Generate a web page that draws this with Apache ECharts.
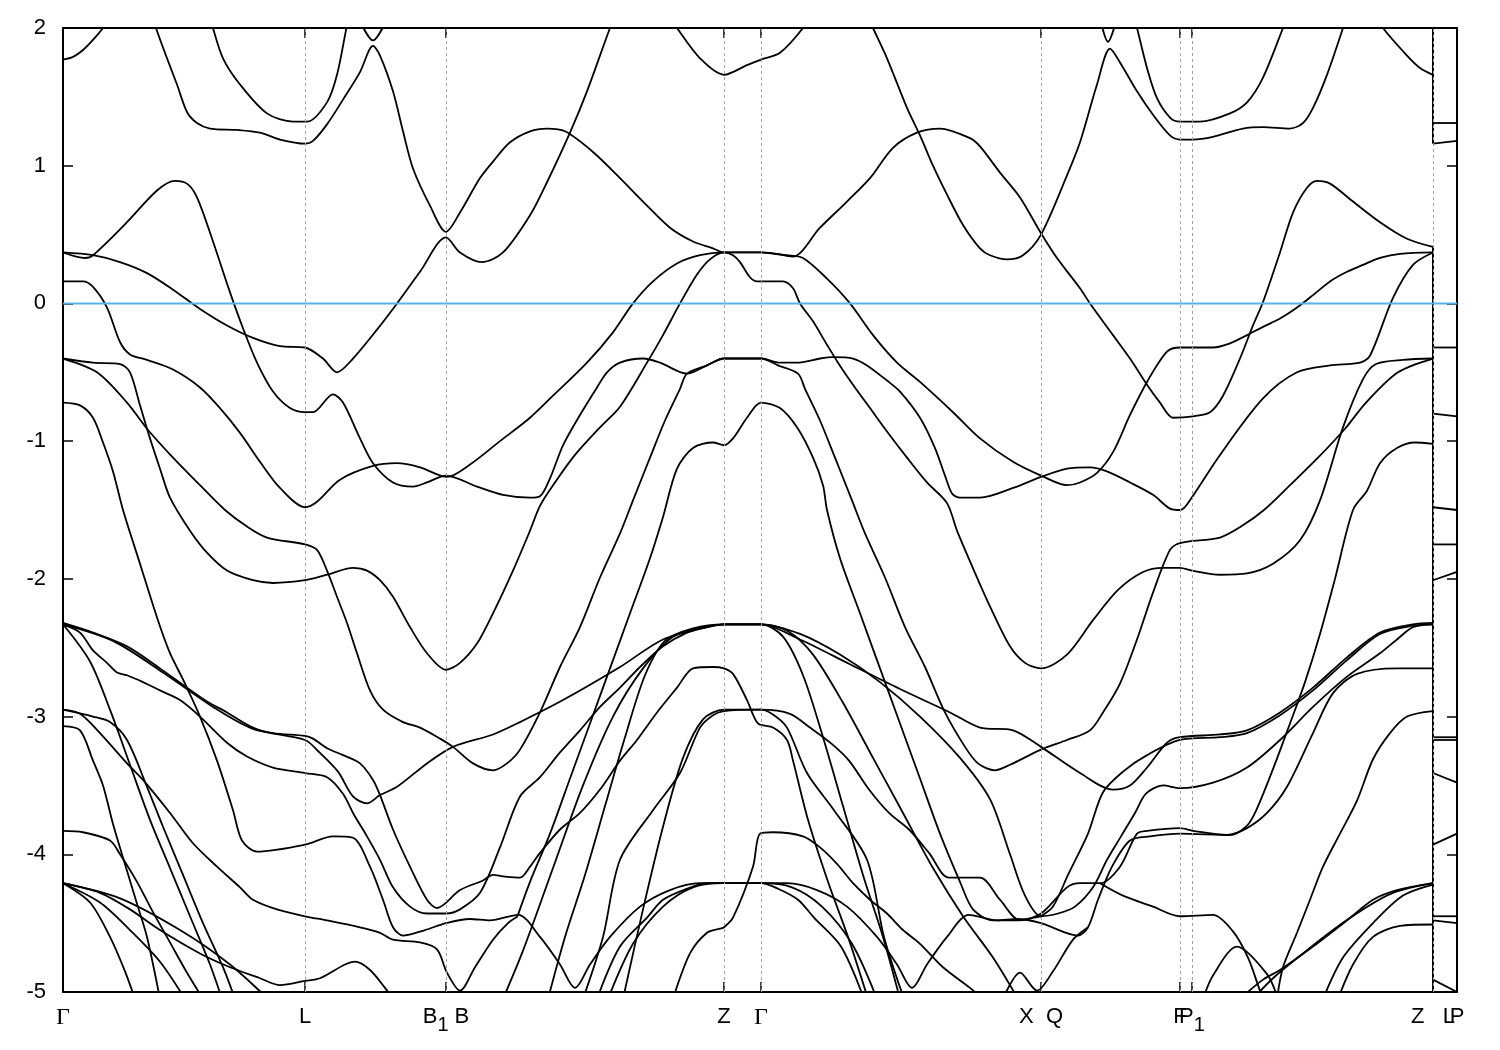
<!DOCTYPE html>
<html><head><meta charset="utf-8">
<script src="https://cdn.jsdelivr.net/npm/echarts@6/dist/echarts.min.js"></script>
<style>html,body{margin:0;padding:0;background:#fff}#c{width:1500px;height:1050px}</style>
</head><body><div id="c"></div>
<script>
// k-path positions of the high-symmetry points and their labels
const kTicks  = [0, 2.42, 3.83, 6.61, 6.98, 9.78, 11.17, 11.29, 13.70, 13.94];
const kLabels = ['Γ', 'L', 'B1|B', 'Z', 'Γ', 'X|Q', 'F', 'P1', 'Z|L', 'P'];
const kGuides = [2.42, 3.83, 6.61, 6.98, 9.78, 11.17, 11.29, 13.70];
const eRange = [-5, 2];
const fermiLevel = 0;

// bands: [k, E(eV)]
const bandA  = [[0,1.77],[0.10,1.79],[0.20,1.84],[0.32,1.93],[0.42,2.02],[0.46,2.08]];
const bandB  = [[0.90,2.08],[0.93,2.00],[1.04,1.78],[1.14,1.59],[1.24,1.39],[1.34,1.31],[1.47,1.27],[1.74,1.26],[1.97,1.24],[2.17,1.19],[2.42,1.16],[2.50,1.18],[2.64,1.30],[2.80,1.48],[2.97,1.68],[3.10,1.87],[3.17,1.80],[3.30,1.54],[3.40,1.25],[3.50,0.98],[3.67,0.71],[3.83,0.52],[3.97,0.66],[4.17,0.91],[4.30,1.03],[4.47,1.17],[4.67,1.25],[4.84,1.27],[5.02,1.25],[5.30,1.10],[5.57,0.91],[5.84,0.71],[6.07,0.55],[6.30,0.45],[6.50,0.40],[6.61,0.37],[6.98,0.37],[7.20,0.35],[7.30,0.34],[7.57,0.55],[7.84,0.74],[8.07,0.91],[8.30,1.13],[8.54,1.24],[8.77,1.27],[9.07,1.20],[9.17,1.14],[9.37,0.95],[9.57,0.77],[9.78,0.51],[9.94,0.33],[10.17,0.11],[10.27,0.00],[10.50,-0.23],[10.67,-0.40],[10.84,-0.59],[10.97,-0.72],[11.10,-0.83],[11.30,-0.82],[11.47,-0.79],[11.60,-0.67],[11.77,-0.40],[11.90,-0.16],[12.00,0.01],[12.17,0.37],[12.30,0.66],[12.44,0.84],[12.54,0.89],[12.67,0.87],[12.90,0.74],[13.17,0.59],[13.44,0.47],[13.70,0.41]];
const bandB2 = [[1.45,2.10],[1.49,2.02],[1.60,1.78],[1.77,1.59],[2.04,1.38],[2.30,1.32],[2.44,1.32],[2.64,1.46],[2.74,1.66],[2.84,2.02],[2.87,2.10]];
const bandVL = [[2.94,2.10],[3.10,1.91],[3.26,2.10]];
const bandVR = [[10.36,2.10],[10.45,1.90],[10.55,2.10]];
const bandK  = [[6.05,2.10],[6.14,2.00],[6.37,1.78],[6.61,1.66],[6.84,1.73],[6.98,1.77],[7.17,1.82],[7.40,2.00],[7.45,2.08]];
const bandAr = [[13.15,2.08],[13.20,2.00],[13.44,1.80],[13.57,1.71],[13.70,1.66]];
const bandB2r= [[10.70,2.10],[10.74,2.00],[10.84,1.71],[10.94,1.49],[11.07,1.35],[11.17,1.32],[11.37,1.32],[11.67,1.38],[11.84,1.46],[12.00,1.64],[12.20,2.00],[12.24,2.08]];
const bandF  = [[0,0.37],[0.30,0.35],[0.57,0.30],[0.84,0.22],[1.10,0.10],[1.37,-0.04],[1.64,-0.16],[1.90,-0.25],[2.17,-0.31],[2.42,-0.32],[2.60,-0.40],[2.74,-0.50],[2.90,-0.40],[3.14,-0.19],[3.34,0.00],[3.57,0.23],[3.83,0.48],[3.97,0.37],[4.19,0.30],[4.40,0.37],[4.67,0.64],[4.84,0.88],[5.07,1.24],[5.24,1.54],[5.47,2.00],[5.52,2.08]];
const bandRq = [[8.05,2.08],[8.10,2.00],[8.24,1.78],[8.44,1.42],[8.57,1.22],[8.70,1.00],[8.84,0.79],[9.00,0.57],[9.17,0.40],[9.27,0.35],[9.44,0.32],[9.60,0.35],[9.78,0.50],[10.04,0.93],[10.17,1.17],[10.34,1.59],[10.47,1.85],[10.57,1.75],[10.74,1.54],[10.90,1.37],[11.07,1.22],[11.17,1.19],[11.30,1.19],[11.50,1.21],[11.80,1.27],[12.00,1.28],[12.27,1.27],[12.40,1.31],[12.50,1.42],[12.64,1.66],[12.80,2.00],[12.83,2.08]];
const bandG  = [[0,0.16],[0.20,0.16],[0.30,0.12],[0.44,-0.03],[0.57,-0.28],[0.67,-0.37],[0.84,-0.41],[1.10,-0.48],[1.37,-0.61],[1.57,-0.76],[1.77,-0.94],[1.97,-1.15],[2.17,-1.34],[2.42,-1.48],[2.54,-1.44],[2.77,-1.28],[3.10,-1.18],[3.34,-1.16],[3.57,-1.19],[3.84,-1.26],[4.07,-1.17],[4.37,-1.00],[4.67,-0.83],[4.90,-0.67],[5.24,-0.43],[5.50,-0.21],[5.70,0.00],[5.90,0.16],[6.14,0.29],[6.37,0.35],[6.61,0.37],[6.98,0.37],[7.24,0.35],[7.40,0.33],[7.64,0.18],[7.87,0.00],[8.10,-0.23],[8.34,-0.43],[8.57,-0.57],[8.90,-0.79],[9.17,-0.98],[9.50,-1.15],[9.78,-1.25],[10.04,-1.32],[10.17,-1.30],[10.34,-1.23],[10.50,-1.08],[10.67,-0.81],[10.84,-0.57],[11.04,-0.35],[11.17,-0.32],[11.50,-0.32],[11.67,-0.29],[11.84,-0.23],[12.00,-0.17],[12.17,-0.11],[12.34,-0.03],[12.50,0.06],[12.67,0.16],[12.84,0.23],[13.00,0.28],[13.17,0.33],[13.37,0.36],[13.70,0.37]];
const bandE  = [[0,0.37],[0.22,0.33],[0.30,0.35],[0.64,0.59],[0.94,0.82],[1.12,0.89],[1.24,0.87],[1.34,0.77],[1.50,0.45],[1.67,0.08],[1.80,-0.18],[1.94,-0.43],[2.10,-0.64],[2.27,-0.76],[2.42,-0.79],[2.50,-0.79],[2.70,-0.66],[2.80,-0.72],[2.97,-0.98],[3.10,-1.16],[3.30,-1.30],[3.50,-1.33],[3.64,-1.30],[3.83,-1.25],[4.14,-1.33],[4.40,-1.39],[4.67,-1.41],[4.77,-1.40],[4.87,-1.27],[5.00,-1.03],[5.17,-0.81],[5.34,-0.61],[5.44,-0.50],[5.57,-0.43],[5.80,-0.40],[5.97,-0.43],[6.24,-0.51],[6.44,-0.45],[6.61,-0.40],[6.98,-0.40],[7.17,-0.43],[7.34,-0.43],[7.57,-0.40],[7.70,-0.39],[7.90,-0.40],[8.04,-0.45],[8.24,-0.56],[8.37,-0.64],[8.57,-0.83],[8.72,-1.05],[8.82,-1.25],[8.89,-1.38],[8.97,-1.41],[9.17,-1.41],[9.50,-1.34],[9.78,-1.26],[10.04,-1.20],[10.27,-1.19],[10.44,-1.22],[10.67,-1.30],[10.90,-1.39],[11.07,-1.49],[11.17,-1.50],[11.24,-1.46],[11.57,-1.10],[12.00,-0.69],[12.34,-0.50],[12.67,-0.45],[12.97,-0.43],[13.07,-0.38],[13.30,0.04],[13.50,0.28],[13.70,0.37]];
const bandH1 = [[0,-0.40],[0.30,-0.43],[0.57,-0.44],[0.67,-0.50],[0.77,-0.74],[0.87,-0.98],[0.97,-1.20],[1.07,-1.41],[1.27,-1.65],[1.44,-1.81],[1.64,-1.94],[1.90,-2.01],[2.10,-2.03],[2.42,-2.01],[2.64,-1.97],[2.90,-1.92],[3.04,-1.94],[3.17,-2.01],[3.30,-2.13],[3.47,-2.35],[3.64,-2.54],[3.83,-2.66],[3.97,-2.61],[4.14,-2.47],[4.30,-2.25],[4.50,-1.94],[4.67,-1.65],[4.77,-1.47],[4.92,-1.30],[5.12,-1.10],[5.37,-0.90],[5.57,-0.75],[5.84,-0.43],[6.00,-0.23],[6.17,0.00],[6.34,0.21],[6.47,0.32],[6.61,0.37],[6.70,0.35],[6.77,0.30],[6.87,0.19],[6.94,0.16],[6.98,0.16],[7.20,0.16],[7.30,0.11],[7.37,0.00],[7.50,-0.13],[7.64,-0.30],[7.75,-0.43],[7.90,-0.59],[8.07,-0.76],[8.24,-0.93],[8.44,-1.12],[8.64,-1.30],[8.84,-1.45],[8.94,-1.65],[9.11,-1.94],[9.27,-2.20],[9.47,-2.49],[9.62,-2.61],[9.78,-2.65],[10.04,-2.55],[10.30,-2.30],[10.55,-2.08],[10.80,-1.95],[11.00,-1.92],[11.17,-1.92],[11.29,-1.94],[11.57,-1.97],[11.84,-1.96],[12.10,-1.89],[12.37,-1.72],[12.57,-1.43],[12.80,-0.90],[13.00,-0.55],[13.13,-0.44],[13.40,-0.41],[13.70,-0.40]];
const bandH2 = [[0,-0.40],[0.34,-0.50],[0.64,-0.72],[0.84,-0.91],[1.10,-1.12],[1.37,-1.32],[1.62,-1.50],[1.84,-1.62],[2.04,-1.70],[2.42,-1.75],[2.54,-1.79],[2.64,-1.94],[2.74,-2.13],[2.84,-2.32],[2.94,-2.54],[3.07,-2.81],[3.20,-2.95],[3.40,-3.04],[3.57,-3.08],[3.77,-3.16],[3.90,-3.22],[4.10,-3.34],[4.30,-3.39],[4.44,-3.34],[4.57,-3.24],[4.77,-2.97],[4.97,-2.64],[5.17,-2.35],[5.37,-1.99],[5.57,-1.67],[5.70,-1.43],[5.87,-1.12],[6.02,-0.85],[6.17,-0.62],[6.24,-0.51],[6.44,-0.45],[6.61,-0.40],[6.98,-0.40],[7.15,-0.45],[7.35,-0.51],[7.42,-0.62],[7.57,-0.85],[7.72,-1.12],[7.89,-1.43],[8.02,-1.67],[8.22,-1.99],[8.42,-2.35],[8.62,-2.64],[8.82,-2.97],[9.02,-3.22],[9.15,-3.34],[9.32,-3.39],[9.47,-3.35],[9.78,-3.24],[10.04,-3.17],[10.27,-3.10],[10.40,-2.97],[10.57,-2.76],[10.74,-2.44],[10.90,-2.10],[11.07,-1.79],[11.17,-1.74],[11.57,-1.70],[11.78,-1.62],[12.01,-1.50],[12.27,-1.32],[12.55,-1.12],[12.82,-0.91],[13.03,-0.72],[13.35,-0.50],[13.70,-0.40]];
const bandZ1 = [[4.55,-4.44],[4.67,-4.20],[4.87,-3.85],[5.07,-3.45],[5.27,-3.05],[5.47,-2.65],[5.67,-2.25],[5.87,-1.85],[6.00,-1.55],[6.14,-1.20],[6.30,-1.05],[6.50,-1.01],[6.61,-1.03],[6.70,-0.98],[6.84,-0.83],[6.98,-0.72],[7.17,-0.76],[7.34,-0.90],[7.50,-1.12],[7.60,-1.32],[7.64,-1.50],[7.77,-1.85],[7.97,-2.25],[8.17,-2.65],[8.37,-3.05],[8.57,-3.45],[8.77,-3.85],[8.97,-4.20],[9.10,-4.40],[9.30,-4.48],[9.50,-4.48],[9.78,-4.45]];
const bandI  = [[0,-0.72],[0.17,-0.74],[0.30,-0.83],[0.40,-1.01],[0.50,-1.22],[0.60,-1.50],[0.77,-1.89],[0.94,-2.28],[1.07,-2.54],[1.20,-2.73],[1.37,-3.00],[1.54,-3.32],[1.70,-3.68],[1.79,-3.90],[1.94,-3.98],[2.42,-3.93],[2.70,-3.87],[2.90,-3.88],[3.07,-4.09],[3.20,-4.33],[3.30,-4.53],[3.40,-4.59],[3.62,-4.55],[3.83,-4.50],[4.07,-4.47],[4.27,-4.48],[4.55,-4.44],[4.77,-4.60],[4.97,-4.80],[5.12,-4.97],[5.27,-4.80],[5.47,-4.60],[5.77,-4.38],[6.07,-4.26],[6.37,-4.21],[6.61,-4.21],[6.98,-4.21],[7.24,-4.21],[7.54,-4.26],[7.84,-4.38],[8.14,-4.60],[8.34,-4.80],[8.49,-4.97],[8.64,-4.80],[8.84,-4.60],[9.06,-4.44],[9.34,-4.48],[9.54,-4.47],[9.78,-4.50],[10.15,-4.59],[10.25,-4.53],[10.35,-4.33],[10.49,-4.09],[10.67,-3.90],[10.87,-3.87],[11.17,-3.85],[11.67,-3.86],[11.83,-3.80],[11.92,-3.70],[12.09,-3.40],[12.27,-3.05],[12.42,-2.75],[12.57,-2.40],[12.72,-2.00],[12.90,-1.50],[13.04,-1.36],[13.17,-1.16],[13.34,-1.05],[13.52,-1.01],[13.70,-1.02]];
const bandJ1 = [[0,-2.32],[0.30,-2.39],[0.64,-2.49],[0.97,-2.65],[1.24,-2.79],[1.44,-2.89],[1.64,-2.97],[1.90,-3.08],[2.10,-3.12],[2.42,-3.14],[2.50,-3.16],[2.64,-3.23],[2.80,-3.28],[2.97,-3.34],[3.10,-3.46],[3.17,-3.57],[3.30,-3.82],[3.47,-4.09],[3.64,-4.33],[3.74,-4.39],[3.97,-4.26],[4.20,-4.19],[4.30,-4.15],[4.40,-4.16],[4.57,-4.17],[4.67,-4.09],[4.77,-3.99],[4.97,-3.82],[5.17,-3.70],[5.37,-3.53],[5.57,-3.32],[5.74,-3.17],[5.94,-2.97],[6.14,-2.79],[6.30,-2.65],[6.50,-2.64],[6.61,-2.65],[6.70,-2.69],[6.84,-2.88],[6.95,-3.05],[7.10,-3.08],[7.24,-3.17],[7.30,-3.32],[7.45,-3.75],[7.65,-4.20],[7.85,-4.60],[8.05,-5.05]];
const bandJ2 = [[0,-2.33],[0.50,-2.45],[1.00,-2.68],[1.50,-2.93],[1.90,-3.09],[2.42,-3.17],[2.55,-3.25],[2.75,-3.40],[2.90,-3.58],[3.04,-3.63],[3.17,-3.57],[3.34,-3.51],[3.64,-3.34],[3.90,-3.22],[4.30,-3.13],[4.57,-3.04],[5.00,-2.88],[5.57,-2.64],[6.00,-2.44],[6.44,-2.35],[6.61,-2.33],[6.98,-2.33],[7.37,-2.44],[7.87,-2.62],[8.37,-2.80],[8.87,-2.97],[9.17,-3.08],[9.50,-3.10],[9.78,-3.22],[10.17,-3.41],[10.50,-3.53],[10.67,-3.50],[10.84,-3.37],[11.04,-3.19],[11.17,-3.15],[11.57,-3.13],[11.84,-3.10],[12.17,-2.97],[12.50,-2.79],[12.84,-2.57],[13.17,-2.39],[13.50,-2.33],[13.70,-2.32]];
const bandL3 = [[0,-2.33],[0.17,-2.39],[0.30,-2.52],[0.44,-2.61],[0.54,-2.68],[0.64,-2.70],[0.80,-2.75],[0.97,-2.81],[1.17,-2.88],[1.37,-3.00],[1.64,-3.19],[1.84,-3.29],[2.10,-3.37],[2.42,-3.41],[2.64,-3.44],[2.80,-3.56],[2.90,-3.70],[3.04,-3.87],[3.17,-4.04],[3.30,-4.24],[3.47,-4.38],[3.64,-4.43],[3.83,-4.43],[3.97,-4.40],[4.17,-4.28],[4.37,-3.95],[4.57,-3.58],[4.77,-3.44],[4.97,-3.26],[5.17,-3.10],[5.37,-2.93],[5.57,-2.79],[5.77,-2.64],[6.00,-2.49],[6.24,-2.39],[6.44,-2.35],[6.61,-2.33],[6.98,-2.33],[7.37,-2.40],[7.77,-2.55],[8.17,-2.75],[8.57,-3.00],[8.97,-3.30],[9.27,-3.60],[9.47,-4.00],[9.62,-4.30],[9.78,-4.45],[9.95,-4.43],[10.12,-4.38],[10.30,-4.24],[10.44,-4.04],[10.58,-3.87],[10.72,-3.70],[10.83,-3.56],[11.00,-3.50],[11.17,-3.52],[11.50,-3.48],[11.84,-3.37],[12.17,-3.17],[12.50,-2.93],[12.84,-2.71],[13.17,-2.54],[13.34,-2.44],[13.50,-2.35],[13.70,-2.33]];
const bandW  = [[5.20,-5.05],[5.40,-4.60],[5.57,-4.04],[5.90,-3.68],[6.17,-3.41],[6.37,-3.08],[6.50,-2.99],[6.61,-2.96],[6.98,-2.95],[7.27,-2.98],[7.47,-3.08],[7.69,-3.20],[7.86,-3.32],[8.06,-3.53],[8.26,-3.70],[8.46,-3.82],[8.66,-3.99],[8.86,-4.17],[9.17,-4.17],[9.37,-4.33],[9.57,-4.48],[9.78,-4.43],[10.04,-4.24],[10.17,-4.21],[10.37,-4.21],[10.57,-4.09],[10.74,-3.85],[10.84,-3.83],[11.17,-3.81],[11.30,-3.83],[11.64,-3.86],[11.84,-3.81],[12.04,-3.70],[12.24,-3.51],[12.50,-3.12],[12.70,-2.83],[12.94,-2.69],[13.34,-2.65],[13.70,-2.65]];
const bandW2 = [[5.60,-5.05],[5.80,-4.40],[6.00,-3.80],[6.20,-3.30],[6.40,-3.02],[6.61,-2.95],[6.98,-2.95],[7.11,-2.99],[7.24,-3.08],[7.44,-3.41],[7.71,-3.68],[8.04,-4.04],[8.21,-4.60],[8.41,-5.05]];
const bandZ3 = [[6.10,-5.05],[6.27,-4.72],[6.44,-4.57],[6.57,-4.54],[6.61,-4.53],[6.70,-4.46],[6.90,-4.09],[6.97,-3.85],[7.10,-3.84],[7.40,-3.87],[7.57,-3.95],[7.74,-4.07],[7.90,-4.21],[8.07,-4.33],[8.24,-4.43],[8.40,-4.55],[8.57,-4.65],[8.80,-4.82],[9.07,-4.97],[9.20,-5.05]];
const bandZ4a= [[5.34,-5.05],[5.57,-4.67],[5.84,-4.46],[6.00,-4.33],[6.24,-4.25],[6.44,-4.21],[6.61,-4.21],[6.98,-4.21],[7.15,-4.25],[7.35,-4.33],[7.51,-4.46],[7.78,-4.67],[8.01,-5.05]];
const bandZ4b= [[5.45,-5.05],[5.70,-4.65],[6.00,-4.38],[6.30,-4.24],[6.61,-4.21],[6.98,-4.21],[7.29,-4.24],[7.59,-4.38],[7.89,-4.65],[8.14,-5.05]];
const bandQ1 = [[4.85,-5.05],[5.02,-4.60],[5.22,-4.15],[5.42,-3.65],[5.62,-3.15],[5.82,-2.70],[6.02,-2.45],[6.30,-2.36],[6.61,-2.33],[6.98,-2.33],[7.20,-2.42],[7.40,-2.70],[7.60,-3.15],[7.80,-3.65],[8.00,-4.15],[8.20,-4.60],[8.37,-5.05]];
const bandQ2 = [[4.40,-5.05],[4.60,-4.70],[4.90,-4.10],[5.20,-3.50],[5.50,-3.00],[5.80,-2.65],[6.10,-2.42],[6.40,-2.35],[6.61,-2.33],[6.98,-2.33],[7.25,-2.38],[7.50,-2.55],[7.80,-2.90],[8.10,-3.30],[8.40,-3.70],[8.70,-4.10],[9.00,-4.45],[9.30,-4.75],[9.55,-5.05]];
const bandM  = [[0,-2.33],[0.27,-2.60],[0.47,-2.95],[0.67,-3.35],[0.87,-3.75],[1.07,-4.10],[1.27,-4.45],[1.47,-4.80],[1.59,-5.05]];
const bandN1 = [[0,-2.95],[0.17,-2.98],[0.37,-3.12],[0.64,-3.34],[0.80,-3.46],[1.07,-3.70],[1.30,-3.92],[1.54,-4.09],[1.77,-4.24],[1.90,-4.33],[2.14,-4.40],[2.42,-4.45],[2.64,-4.48],[2.97,-4.53],[3.17,-4.57],[3.30,-4.62],[3.57,-4.64],[3.74,-4.69],[3.84,-4.86],[3.97,-4.99],[4.12,-4.82],[4.30,-4.62],[4.45,-4.50],[4.55,-4.45]];
const bandN2 = [[0,-2.95],[0.30,-3.00],[0.47,-3.04],[0.64,-3.17],[0.84,-3.51],[1.00,-3.80],[1.20,-4.15],[1.40,-4.50],[1.60,-4.82],[1.72,-5.05]];
const bandN3 = [[0,-3.07],[0.17,-3.10],[0.30,-3.32],[0.40,-3.50],[0.50,-3.78],[0.64,-4.12],[0.74,-4.36],[0.84,-4.60],[0.97,-5.05]];
const bandO  = [[0,-3.83],[0.20,-3.84],[0.47,-3.90],[0.57,-4.00],[0.74,-4.20],[0.90,-4.42],[1.07,-4.64],[1.24,-4.86],[1.40,-5.05]];
const bandP1 = [[0,-4.21],[0.37,-4.28],[0.67,-4.40],[0.97,-4.55],[1.37,-4.72],[1.67,-4.82],[1.97,-4.90],[2.17,-4.95],[2.42,-4.92],[2.57,-4.90],[2.82,-4.80],[2.92,-4.78],[3.07,-4.84],[3.22,-4.97],[3.30,-5.05]];
const bandP2 = [[0,-4.21],[0.37,-4.35],[0.67,-4.55],[0.97,-4.78],[1.22,-5.05]];
const bandP3 = [[0,-4.21],[0.27,-4.35],[0.47,-4.60],[0.62,-4.85],[0.72,-5.05]];
const bandP4 = [[0,-4.21],[0.57,-4.32],[1.17,-4.55],[1.67,-4.80],[2.05,-5.05]];
const bandR1 = [[9.78,-4.45],[9.90,-4.38],[10.05,-4.15],[10.25,-3.85],[10.40,-3.55],[10.60,-3.40],[10.84,-3.28],[11.17,-3.17],[11.57,-3.15],[11.84,-3.12],[12.17,-2.99],[12.50,-2.81],[12.84,-2.59],[13.17,-2.40],[13.50,-2.34],[13.70,-2.33]];
const bandR4 = [[12.14,-5.05],[12.20,-4.82],[12.34,-4.57],[12.47,-4.33],[12.60,-4.09],[12.77,-3.85],[12.94,-3.61],[13.10,-3.31],[13.27,-3.12],[13.44,-3.00],[13.70,-2.96]];
const bandR5a= [[11.77,-5.05],[12.00,-4.91],[12.17,-4.84],[12.50,-4.67],[12.84,-4.48],[13.10,-4.33],[13.34,-4.26],[13.70,-4.21]];
const bandR5b= [[11.90,-5.05],[12.10,-4.90],[12.40,-4.72],[12.70,-4.55],[13.00,-4.40],[13.30,-4.28],[13.70,-4.21]];
const bandR5c= [[12.60,-5.05],[12.80,-4.75],[13.10,-4.50],[13.40,-4.30],[13.70,-4.22]];
const bandR7 = [[12.75,-5.05],[12.90,-4.80],[13.10,-4.60],[13.37,-4.52],[13.70,-4.51]];
const bandF1 = [[10.37,-4.21],[10.60,-4.30],[10.90,-4.38],[11.17,-4.45],[11.50,-4.44],[11.70,-4.56],[11.85,-4.75],[11.95,-4.95],[12.00,-5.05]];
const bandF2 = [[11.40,-5.05],[11.50,-4.88],[11.74,-4.67],[12.04,-4.87],[12.15,-5.05]];
const bandF3 = [[9.40,-5.05],[9.57,-4.86],[9.74,-4.99],[9.90,-4.85],[10.10,-4.62],[10.25,-4.53]];

// L-P segment (flat bands) : [E at L, E at P]
const lpBands = [[1.31,1.31],[1.16,1.18],[-0.32,-0.32],[-0.80,-0.82],[-1.48,-1.50],[-1.75,-1.75],[-2.01,-1.95],[-3.15,-3.15],[-3.17,-3.17],[-3.41,-3.48],[-3.93,-3.85],[-4.45,-4.45],[-4.48,-4.50],[-4.91,-5.00]];
// energy spans of the Z|L discontinuity
const zlJumps = [[2.05,1.16],[0.41,-5.05]];

const bands = [bandA,bandB,bandB2,bandVL,bandVR,bandK,bandAr,bandB2r,bandF,bandRq,bandG,bandE,bandH1,bandH2,bandZ1,bandI,bandJ1,bandJ2,bandL3,bandW,bandW2,bandZ3,bandZ4a,bandZ4b,bandQ1,bandQ2,bandM,bandN1,bandN2,bandN3,bandO,bandP1,bandP2,bandP3,bandP4,bandR1,bandR4,bandR5a,bandR5b,bandR5c,bandR7,bandF1,bandF2,bandF3];

const kZL = kTicks[8], kP = kTicks[9];
const bandStyle = {color:'#000', width:1.8};
const series = [];
series.push({type:'line', data:[], markLine:{silent:true, symbol:['none','none'], label:{show:false},
  lineStyle:{color:'#a0a0a0', type:[3,3], width:1}, data:kGuides.map(k=>({xAxis:k}))}, z:1});
bands.forEach(b => series.push({type:'line', data:b, showSymbol:false, smooth:0.3,
  lineStyle:bandStyle, silent:true, z:3}));
lpBands.forEach(p => series.push({type:'line', data:[[kZL,p[0]],[kP,p[1]]], showSymbol:false,
  lineStyle:bandStyle, silent:true, z:3}));
zlJumps.forEach(j => series.push({type:'line', data:[[kZL,j[0]],[kZL,j[1]]], showSymbol:false,
  lineStyle:{color:'#000', width:2}, silent:true, z:3}));
series.push({type:'line', data:[[kTicks[0],fermiLevel],[kP,fermiLevel]], showSymbol:false,
  lineStyle:{color:'#56b4e9', width:2}, silent:true, z:4});

function fmtK(v){
  let i=0, d=1e9;
  kTicks.forEach((t,j)=>{ if(Math.abs(t-v)<d){d=Math.abs(t-v); i=j;} });
  const n = kLabels[i];
  if (n==='Γ') return '{g|Γ}';
  if (n==='B1|B') return '{t|B}{s|1}{t| B}';
  if (n==='X|Q') return '{t|X  Q}';
  if (n==='Z|L') return '{t|Z   L}';
  if (n==='P1') return '{t|P}{s|1}';
  return '{t|'+n+'}';
}
const font = 'Liberation Sans, Arial, sans-serif';
const rich = {t:{fontFamily:font, fontSize:22, color:'#000', verticalAlign:'top'},
             s:{fontFamily:font, fontSize:20, color:'#000', verticalAlign:'top', padding:[9,0,0,0]},
             g:{fontFamily:'Liberation Serif, DejaVu Serif, serif', fontSize:24, color:'#000', verticalAlign:'top'}};
const mainTicks = kTicks.slice(0, 9);
const lastTick = kTicks.slice(9);
const chart = echarts.init(document.getElementById('c'), null, {renderer:'canvas'});
chart.setOption({
  animation:false,
  backgroundColor:'#fff',
  grid:{left:63, top:28, right:43, bottom:58, show:true, borderColor:'#000', borderWidth:2, backgroundColor:'transparent'},
  xAxis:[
    {type:'value', min:kTicks[0], max:kP, position:'bottom',
     axisLine:{show:false, onZero:false}, splitLine:{show:false},
     axisTick:{show:true, inside:true, length:10, customValues:kTicks, lineStyle:{color:'#000', width:1.5}},
     axisLabel:{show:true, customValues:mainTicks, formatter:fmtK, margin:14, rich:rich}},
    {type:'value', min:kTicks[0], max:kP, position:'top',
     axisLine:{show:false, onZero:false}, splitLine:{show:false}, axisLabel:{show:false},
     axisTick:{show:true, inside:true, length:10, customValues:kTicks, lineStyle:{color:'#000', width:1.5}}},
    {type:'value', min:kTicks[0], max:kP, position:'bottom',
     axisLine:{show:false, onZero:false}, splitLine:{show:false}, axisTick:{show:false},
     axisLabel:{show:true, customValues:lastTick, formatter:fmtK, margin:14, rich:rich}}
  ],
  yAxis:[
    {type:'value', min:eRange[0], max:eRange[1], interval:1, position:'left',
     axisLine:{show:false, onZero:false}, splitLine:{show:false},
     axisTick:{show:true, inside:true, length:10, lineStyle:{color:'#000', width:1.5}},
     axisLabel:{fontFamily:font, fontSize:22, color:'#000', margin:17}},
    {type:'value', min:eRange[0], max:eRange[1], interval:1, position:'right',
     axisLine:{show:false, onZero:false}, splitLine:{show:false}, axisLabel:{show:false},
     axisTick:{show:true, inside:true, length:10, lineStyle:{color:'#000', width:1.5}}}
  ],
  series: series
});
</script></body></html>
